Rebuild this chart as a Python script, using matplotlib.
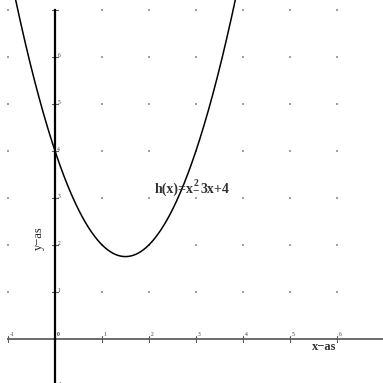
import numpy as np
import matplotlib
matplotlib.use("Agg")
import matplotlib.pyplot as plt

# h(x) = a*x^2 + b*x + c
coef_a, coef_b, coef_c = 1.0, -3.0, 4.0
x_ticks = [-1, 0, 1, 2, 3, 4, 5, 6]
y_ticks = [-1, 1, 2, 3, 4, 5, 6]
grid_x = [-1, 0, 1, 2, 3, 4, 5, 6, 7]
grid_y = [-1, 0, 1, 2, 3, 4, 5, 6, 7]

xmin, xmax = -1.17, 6.98
ymin, ymax = -0.94, 7.21

fig = plt.figure(figsize=(3.83, 3.83), dpi=100)
ax = fig.add_axes([0, 0, 1, 1])
ax.set_xlim(xmin, xmax)
ax.set_ylim(ymin, ymax)
ax.axis("off")

serif = ["Liberation Serif", "DejaVu Serif"]

# dotted grid at integer points
gx, gy = np.meshgrid(grid_x, grid_y)
ax.scatter(gx.ravel(), gy.ravel(), s=1.3, color="#a0a0a0", marker="s", lw=0, zorder=1)

# axes
ax.plot([-1, xmax], [0, 0], color="#606060", lw=1.3, zorder=2)
ax.plot([0, 0], [ymin, 7], color="black", lw=1.6, zorder=3)

for t in x_ticks:
    ax.plot([t, t], [-0.06, 0.06], color="#606060", lw=0.8, zorder=2)
    ax.text(t + 0.04, 0.03, str(t), fontsize=4, family=serif,
            fontweight="bold" if t == 0 else "normal",
            ha="left", va="bottom", color="#333333", zorder=4)
for t in y_ticks:
    ax.plot([-0.06, 0.06], [t, t], color="#606060", lw=0.8, zorder=2)
    ax.text(0.05, t + 0.03, str(t), fontsize=4, family=serif,
            ha="left", va="center", color="#333333", zorder=4)
ax.plot([-0.06, 0.06], [7, 7], color="#606060", lw=0.8, zorder=2)

# parabola
xs = np.linspace(xmin, xmax, 600)
ys = coef_a * xs**2 + coef_b * xs + coef_c
ax.plot(xs, ys, color="black", lw=1.1, zorder=3)

# axis names
ax.text(5.47, -0.18, "x\u2212as", fontsize=9, family=serif, fontweight="bold",
        ha="left", va="center", color="#333333")
ax.text(-0.34, 2.15, "y\u2212as", fontsize=9, family=serif,
        rotation=90, ha="center", va="center", color="#222222")

# function label
ax.text(2.13, 3.1, "h(x)=x", fontsize=10, family=serif, fontweight="bold",
        ha="left", va="baseline", color="#333333")
ax.text(2.95, 3.26, "2", fontsize=7, family=serif, fontweight="bold",
        ha="left", va="baseline", color="#333333")
ax.text(2.93, 3.1, "\u2212", fontsize=8, family=serif, fontweight="bold",
        ha="left", va="baseline", color="#333333")
ax.text(3.09, 3.1, "3x+4", fontsize=10, family=serif, fontweight="bold",
        ha="left", va="baseline", color="#333333")

fig.savefig("out.png", dpi=100)
